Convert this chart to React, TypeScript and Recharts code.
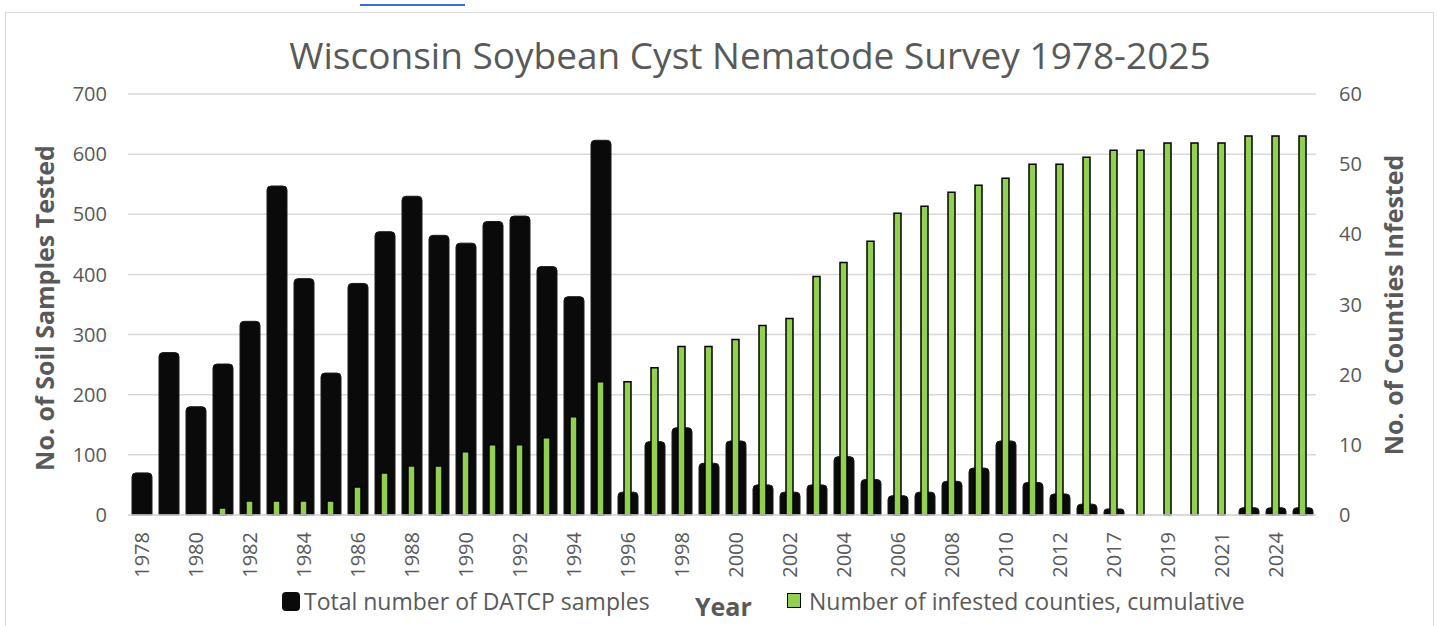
import React from "react";
import {Bar, BarChart, CartesianGrid, Label, XAxis, YAxis} from "recharts";

const years = [
    "1978", "1979", "1980", "1981", "1982", "1983", "1984", "1985", "1986", "1987",
    "1988", "1989", "1990", "1991", "1992", "1993", "1994", "1995", "1996", "1997",
    "1998", "1999", "2000", "2001", "2002", "2003", "2004", "2005", "2006", "2007",
    "2008", "2009", "2010", "2011", "2012", "2015", "2017", "2018", "2019", "2020",
    "2021", "2022", "2024", "2025",
];

// total number of DATCP samples (left axis)
const samples = [
    70, 270, 180, 251, 322, 547, 393, 236, 385, 471,
    530, 465, 452, 488, 497, 413, 363, 623, 38, 122,
    145, 86, 123, 50, 38, 50, 97, 59, 32, 38,
    56, 78, 123, 54, 35, 18, 10, 0, 0, 0,
    0, 12, 12, 12,
];

// number of infested counties, cumulative (right axis)
const counties = [
    0, 0, 0, 1, 2, 2, 2, 2, 4, 6,
    7, 7, 9, 10, 10, 11, 14, 19, 19, 21,
    24, 24, 25, 27, 28, 34, 36, 39, 43, 44,
    46, 47, 48, 50, 50, 51, 52, 52, 53, 53,
    53, 54, 54, 54,
];

const leftTicks = [0, 100, 200, 300, 400, 500, 600, 700];
const rightTicks = [0, 10, 20, 30, 40, 50, 60];

const data = years.map((year, i) => ({
    year,
    samples: samples[i],
    counties: counties[i],
}));

const FONT = "'Open Sans', sans-serif";
const GREY = "#595959";
const GRID = "#d9d9d9";

const YearTick = (props: any) => {
    const {x, y, payload} = props;
    return (
        <text
            x={x}
            y={y}
            transform={`rotate(-90 ${x} ${y})`}
            textAnchor="end"
            dominantBaseline="central"
            fill={GREY}
            fontSize={20}
            fontFamily={FONT}
        >
            {payload.value}
        </text>
    );
};

const axisTitle = (text: string, cx: number, cy: number) => () => (
    <text
        x={cx}
        y={cy}
        transform={`rotate(-90 ${cx} ${cy})`}
        textAnchor="middle"
        dominantBaseline="central"
        fill={GREY}
        fontSize={25}
        fontWeight="bold"
        fontFamily={FONT}
    >
        {text}
    </text>
);

export default function App() {
    return (
        <div style={{position: "absolute", left: 0, top: 0, width: 1438, height: 626, background: "#fff", overflow: "hidden"}}>
            <div style={{position: "absolute", left: 360, top: 4, width: 105, height: 2, background: "#3b6fd4"}}/>
            <div style={{position: "absolute", left: 5, top: 12, width: 1427, height: 640, border: "1.5px solid #d9d9d9"}}/>
            <div style={{
                position: "absolute", left: 31, width: 1438, top: 30, textAlign: "center",
                fontFamily: FONT, fontSize: 37, color: GREY, lineHeight: "50px",
            }}>
                Wisconsin Soybean Cyst Nematode Survey 1978-2025
            </div>
            <div style={{position: "absolute", left: 0, top: 0}}>
                <BarChart
                    width={1438}
                    height={626}
                    data={data}
                    margin={{top: 94, right: 42, left: 48, bottom: 41}}
                >
                    <CartesianGrid vertical={false} stroke={GRID} strokeWidth={1.5} yAxisId="left" xAxisId="main"/>
                    <XAxis
                        xAxisId="main"
                        dataKey="year"
                        interval={1}
                        height={70}
                        tick={<YearTick/>}
                        tickLine={false}
                        tickSize={0}
                        tickMargin={17}
                        axisLine={{stroke: GRID, strokeWidth: 1.5}}
                    />
                    <XAxis xAxisId="green" dataKey="year" orientation="top" height={0} hide/>
                    <YAxis
                        yAxisId="left"
                        orientation="left"
                        width={80}
                        domain={[0, 700]}
                        ticks={leftTicks}
                        interval={0}
                        axisLine={false}
                        tickLine={false}
                        tickSize={0}
                        tickMargin={21}
                        tick={{fill: GREY, fontSize: 20, fontFamily: FONT}}
                    >
                        <Label content={axisTitle("No. of Soil Samples Tested", 44, 308)}/>
                    </YAxis>
                    <YAxis
                        yAxisId="right"
                        orientation="right"
                        width={80}
                        domain={[0, 60]}
                        ticks={rightTicks}
                        interval={0}
                        axisLine={false}
                        tickLine={false}
                        tickSize={0}
                        tickMargin={23}
                        tick={{fill: GREY, fontSize: 20, fontFamily: FONT}}
                    >
                        <Label content={axisTitle("No. of Counties Infested", 1393, 305)}/>
                    </YAxis>
                    <Bar
                        xAxisId="main"
                        yAxisId="left"
                        dataKey="samples"
                        fill="#0a0a0a"
                        stroke="#1a1a1a"
                        strokeWidth={1}
                        barSize={20}
                        radius={[4, 4, 0, 0]}
                        isAnimationActive={false}
                    />
                    <Bar
                        xAxisId="green"
                        yAxisId="right"
                        dataKey="counties"
                        fill="#92d050"
                        stroke="#000"
                        strokeWidth={1.5}
                        barSize={7}
                        isAnimationActive={false}
                    />
                </BarChart>
            </div>
            {/* legend + x axis title share the bottom row */}
            <div style={{position: "absolute", left: 282, top: 592, width: 18, height: 19, background: "#0a0a0a", borderRadius: 4}}/>
            <div style={{position: "absolute", left: 304, top: 586, fontFamily: FONT, fontSize: 23, lineHeight: "30px", color: GREY, whiteSpace: "nowrap"}}>
                Total number of DATCP samples
            </div>
            <div style={{position: "absolute", left: 695, top: 590, fontFamily: FONT, fontSize: 25, lineHeight: "32px", fontWeight: "bold", color: GREY}}>
                Year
            </div>
            <div style={{position: "absolute", left: 787, top: 593, width: 12, height: 13, background: "#92d050", border: "1.5px solid #000"}}/>
            <div style={{position: "absolute", left: 809, top: 586, fontFamily: FONT, fontSize: 23, lineHeight: "30px", color: GREY, whiteSpace: "nowrap"}}>
                Number of infested counties, cumulative
            </div>
        </div>
    );
}
